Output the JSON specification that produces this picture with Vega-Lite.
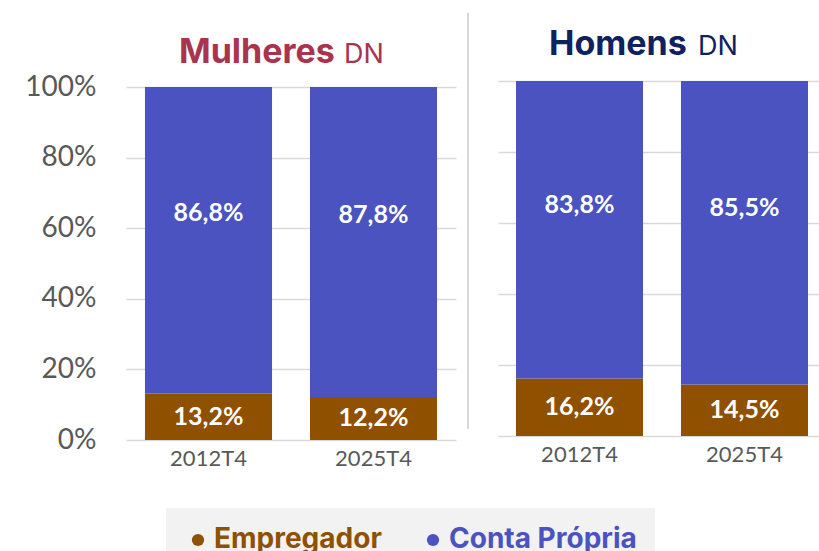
{
  "$schema": "https://vega.github.io/schema/vega-lite/v6.json",
  "background": "white",
  "padding": {"left": 24, "top": 12, "right": 0, "bottom": 0},
  "autosize": {"type": "pad"},
  "config": {
    "view": {"stroke": null},
    "font": "Lato",
    "locale": {"number": {"decimal": ",", "thousands": ".", "grouping": [3], "currency": ["", " €"]}},
    "axis": {"gridColor": "#d9d9d9", "gridWidth": 1.5, "domain": false, "ticks": false, "labelFont": "Lato", "labelColor": "#595959"}
  },
  "datasets": {
    "tab": [
      {"grupo": "Mulheres", "ano": "2012T4", "categoria": "Empregador", "valor": 0.132},
      {"grupo": "Mulheres", "ano": "2012T4", "categoria": "Conta Própria", "valor": 0.868},
      {"grupo": "Mulheres", "ano": "2025T4", "categoria": "Empregador", "valor": 0.122},
      {"grupo": "Mulheres", "ano": "2025T4", "categoria": "Conta Própria", "valor": 0.878},
      {"grupo": "Homens", "ano": "2012T4", "categoria": "Empregador", "valor": 0.162},
      {"grupo": "Homens", "ano": "2012T4", "categoria": "Conta Própria", "valor": 0.838},
      {"grupo": "Homens", "ano": "2025T4", "categoria": "Empregador", "valor": 0.145},
      {"grupo": "Homens", "ano": "2025T4", "categoria": "Conta Própria", "valor": 0.855}
    ]
  },
  "data": {"name": "tab"},
  "spacing": 11,
  "hconcat": [
    {
      "width": 330,
      "height": 359,
      "title": {
        "text": "DN",
        "font": "Inter", "fontSize": 27, "fontWeight": "normal", "color": "#A8344E",
        "anchor": "start", "frame": "group", "dx": 53, "offset": -3,
        "encoding": {"dx": {"value": 218}},
        "subtitle": "Mulheres",
        "subtitleFont": "Inter", "subtitleFontSize": 34, "subtitleFontWeight": "bold",
        "subtitleColor": "#A8344E", "subtitlePadding": -32.6
      },
      "transform": [
        {"filter": "datum.grupo === 'Mulheres'"},
        {"stack": "valor", "groupby": ["ano"], "sort": [{"field": "categoria", "order": "descending"}], "as": ["v0", "v1"]},
        {"calculate": "(datum.v0 + datum.v1) / 2", "as": "vm"}
      ],
      "encoding": {
        "x": {
          "field": "ano", "type": "nominal",
          "scale": {"paddingInner": 0.23, "paddingOuter": 0.115},
          "axis": {"title": null, "labelAngle": 0, "labelFontSize": 22, "labelPadding": 8}
        }
      },
      "layer": [
        {
          "mark": {"type": "bar"},
          "encoding": {
            "y": {
              "field": "v1", "type": "quantitative",
              "scale": {"domain": [0, 1.017], "nice": false},
              "axis": {"title": null, "format": ".0%", "values": [0, 0.2, 0.4, 0.6, 0.8, 1], "labelFontSize": 28, "labelPadding": 30, "minExtent": 100, "maxExtent": 100, "grid": true}
            },
            "y2": {"field": "v0"},
            "color": {
              "field": "categoria", "type": "nominal",
              "scale": {"domain": ["Empregador", "Conta Própria"], "range": ["#8F5000", "#4A53BF"]},
              "legend": {
                "title": null, "orient": "none", "legendX": 40, "legendY": 427, "direction": "horizontal",
                "fillColor": "#f2f2f2", "padding": 18, "symbolType": "circle", "symbolSize": 150, "symbolStrokeWidth": 0,
                "labelFont": "Inter", "labelFontSize": 28, "labelFontWeight": "bold", "labelOffset": 2, "columnPadding": 37,
                "labelLimit": 400,
                "encode": {"labels": {"update": {"fill": {"signal": "datum.label === 'Empregador' ? '#8F5000' : '#4A53BF'"}}}}
              }
            }
          }
        },
        {
          "transform": [{"filter": "datum.categoria === 'Conta Própria'"}],
          "mark": {"type": "text", "color": "white", "font": "Lato", "fontWeight": "bold", "fontSize": 25, "dy": -27, "baseline": "middle"},
          "encoding": {
            "y": {"field": "vm", "type": "quantitative"},
            "text": {"field": "valor", "type": "quantitative", "format": ".1%"}
          }
        },
        {
          "transform": [{"filter": "datum.categoria === 'Empregador'"}],
          "mark": {"type": "text", "color": "white", "font": "Lato", "fontWeight": "bold", "fontSize": 25, "baseline": "middle"},
          "encoding": {
            "y": {"field": "vm", "type": "quantitative"},
            "text": {"field": "valor", "type": "quantitative", "format": ".1%"}
          }
        }
      ]
    },
    {
      "data": {"values": [{}]},
      "width": 19,
      "height": 355,
      "mark": {"type": "rule", "color": "#d9d9d9", "strokeWidth": 2},
      "encoding": {
        "x": {"datum": 0, "type": "quantitative", "scale": {"domain": [0, 1]}, "axis": null},
        "y": {"datum": 1.1915, "type": "quantitative", "scale": {"domain": [0, 1], "nice": false}, "axis": null},
        "y2": {"datum": 0.02}
      }
    },
    {
      "width": 322,
      "height": 355,
      "title": {
        "text": "DN",
        "font": "Inter", "fontSize": 27, "fontWeight": "normal", "color": "#0E2160",
        "anchor": "start", "frame": "group", "dx": 51, "offset": 13,
        "encoding": {"dx": {"value": 200}},
        "subtitle": "Homens",
        "subtitleFont": "Inter", "subtitleFontSize": 34, "subtitleFontWeight": "bold",
        "subtitleColor": "#0E2160", "subtitlePadding": -32.6
      },
      "transform": [
        {"filter": "datum.grupo === 'Homens'"},
        {"stack": "valor", "groupby": ["ano"], "sort": [{"field": "categoria", "order": "descending"}], "as": ["v0", "v1"]},
        {"calculate": "(datum.v0 + datum.v1) / 2", "as": "vm"}
      ],
      "encoding": {
        "x": {
          "field": "ano", "type": "nominal",
          "scale": {"paddingInner": 0.23, "paddingOuter": 0.0909, "align": 0.6},
          "axis": {"title": null, "labelAngle": 0, "labelFontSize": 22, "labelPadding": 8}
        }
      },
      "layer": [
        {
          "mark": {"type": "bar"},
          "encoding": {
            "y": {
              "field": "v1", "type": "quantitative",
              "scale": {"domain": [0, 1], "nice": false},
              "axis": {"title": null, "labels": false, "values": [0, 0.2, 0.4, 0.6, 0.8, 1], "minExtent": 0, "maxExtent": 0, "grid": true}
            },
            "y2": {"field": "v0"},
            "color": {
              "field": "categoria", "type": "nominal",
              "scale": {"domain": ["Empregador", "Conta Própria"], "range": ["#8F5000", "#4A53BF"]},
              "legend": {
                "title": null, "orient": "none", "legendX": 40, "legendY": 427, "direction": "horizontal",
                "fillColor": "#f2f2f2", "padding": 18, "symbolType": "circle", "symbolSize": 150, "symbolStrokeWidth": 0,
                "labelFont": "Inter", "labelFontSize": 28, "labelFontWeight": "bold", "labelOffset": 2, "columnPadding": 37,
                "labelLimit": 400,
                "encode": {"labels": {"update": {"fill": {"signal": "datum.label === 'Empregador' ? '#8F5000' : '#4A53BF'"}}}}
              }
            }
          }
        },
        {
          "transform": [{"filter": "datum.categoria === 'Conta Própria'"}],
          "mark": {"type": "text", "color": "white", "font": "Lato", "fontWeight": "bold", "fontSize": 25, "dy": -25, "baseline": "middle"},
          "encoding": {
            "y": {"field": "vm", "type": "quantitative"},
            "text": {"field": "valor", "type": "quantitative", "format": ".1%"}
          }
        },
        {
          "transform": [{"filter": "datum.categoria === 'Empregador'"}],
          "mark": {"type": "text", "color": "white", "font": "Lato", "fontWeight": "bold", "fontSize": 25, "baseline": "middle"},
          "encoding": {
            "y": {"field": "vm", "type": "quantitative"},
            "text": {"field": "valor", "type": "quantitative", "format": ".1%"}
          }
        }
      ]
    }
  ]
}
